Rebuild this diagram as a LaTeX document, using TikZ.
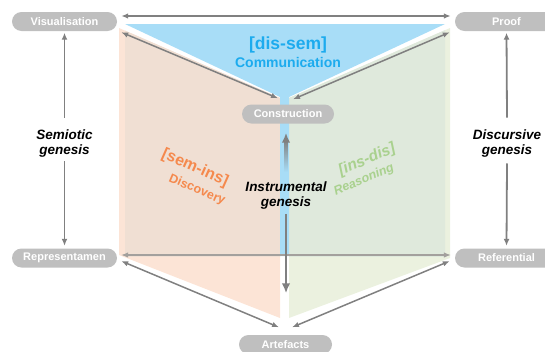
\documentclass[tikz,border=0pt]{standalone}
\usepackage{fontspec}
\setmainfont{Liberation Sans}
\usetikzlibrary{arrows.meta}

\definecolor{pillgrey}{HTML}{BFBFBF}
\definecolor{linkgrey}{HTML}{808080}
\definecolor{faintgrey}{HTML}{A3A09D}
\definecolor{semblue}{HTML}{A8DDF7}
\definecolor{textblue}{HTML}{1CABEE}
\definecolor{peachlow}{HTML}{FCE4D6}
\definecolor{peachup}{HTML}{F0DFD3}
\definecolor{greenlow}{HTML}{EBF1DF}
\definecolor{greenup}{HTML}{DFE9DC}
\definecolor{textorange}{HTML}{F5894D}
\definecolor{textgreen}{HTML}{A9D18E}

\tikzset{
  pole/.style={fill=pillgrey, rounded corners=9.5pt, minimum width=105pt, minimum height=19pt,
    inner sep=0pt, text=white, font=\fontsize{11}{12}\selectfont\bfseries},
  link/.style={draw=linkgrey, line width=1.5pt, {Latex[length=7pt,width=5.5pt]}-{Latex[length=7pt,width=5.5pt]}},
  flatlink/.style={draw=faintgrey, line width=1.1pt, {Latex[length=7pt,width=5.5pt]}-{Latex[length=7pt,width=5.5pt]}},
  halflink/.style={draw=linkgrey, line width=1.8pt, -{Latex[length=7pt,width=6pt]}},
  corelink/.style={draw=linkgrey, line width=2.6pt, -{Latex[length=10pt,width=8.5pt]}},
  genesis/.style={font=\fontsize{13.5}{15}\selectfont\bfseries\itshape, align=center, inner sep=2pt},
  tilted/.style={inner sep=0pt},
}

\begin{document}
\begin{tikzpicture}[x=1pt,y=-1pt]
  \useasboundingbox (0,0) rectangle (545,351);

  %%%%% panels %%%%%
  \fill[peachlow] (119,28) -- (280,98) -- (280,318) -- (119,255) -- cycle;
  \fill[greenlow] (289,98) -- (450,28) -- (450,258) -- (289,318) -- cycle;
  \begin{scope}
    \clip (125,24) rectangle (445,256);
    \fill[peachup] (119,28) -- (280,98) -- (280,318) -- (119,255) -- cycle;
    \fill[greenup] (289,98) -- (450,28) -- (450,258) -- (289,318) -- cycle;
  \end{scope}
  \fill[semblue] (125,24) -- (445,24) -- (289,97) -- (289,256) -- (280,256) -- (280,97) -- cycle;

  %%%%% labels in the panels %%%%%
  \node[text=textblue, font=\fontsize{17.5}{19}\selectfont\bfseries] (dissem) at (288,45) {[dis-sem]};
  \node[text=textblue, font=\fontsize{14}{15}\selectfont\bfseries] (comm) at (288,62) {Communication};
  \node[tilted, text=textorange, rotate=-24, font=\fontsize{16}{17}\selectfont\bfseries] (semins) at (195,168) {[sem-ins]};
  \node[tilted, text=textorange, rotate=-23, font=\fontsize{12.5}{14}\selectfont\bfseries] (disc) at (197,190) {Discovery};
  \node[tilted, text=textgreen, rotate=23, font=\fontsize{15.5}{17}\selectfont\bfseries\itshape] (insdis) at (367,160) {[ins-dis]};
  \node[tilted, text=textgreen, rotate=23, font=\fontsize{12.5}{14}\selectfont\bfseries\itshape] (reas) at (364,180) {Reasoning};

  %%%%% poles %%%%%
  \node[pole] (vis) at (64.5,21.5) {Visualisation};
  \node[pole, minimum width=103pt] (proof) at (506.5,21.5) {Proof};
  \node[pole] (rep) at (64.5,258) {Representamen};
  \node[pole, minimum width=103pt] (ref) at (506.5,258) {Referential};
  \node[pole, minimum width=92pt] (con) at (288,114) {Construction};
  \node[pole, minimum width=93pt] (art) at (285.5,344.5) {Artefacts};

  \node[genesis] (semio) at (64.5,143.5) {Semiotic\\genesis};
  \node[genesis] (discu) at (507,143.5) {Discursive\\genesis};
  \node[genesis] (instr) at (286,196) {Instrumental\\genesis};

  %%%%% links %%%%%
  \draw[link] ([shift={(4,-5.5)}]vis.east) -- ([shift={(-4,-5.5)}]proof.west);
  \draw[flatlink] ([shift={(4,-3)}]rep.east) -- ([shift={(-4,-3)}]ref.west);
  \draw[link] ([shift={(4,1)}]vis.south east) -- ([shift={(-10,-6)}]con.north);
  \draw[link] ([shift={(-5,1)}]proof.south west) -- ([shift={(5,-5)}]con.north);
  \draw[link] ([shift={(4,3)}]rep.east) -- ([shift={(-6.5,-7.5)}]art.north);
  \draw[link] ([shift={(-5,3)}]ref.west) -- ([shift={(6.5,-7.5)}]art.north);

  \draw[halflink] ([shift={(0,-10)}]semio.north) -- ([shift={(0,1.5)}]vis.south);
  \draw[halflink] ([shift={(0,2)}]semio.south) -- ([shift={(0,-2.5)}]rep.north);
  \draw[halflink] ([shift={(0,-10)}]discu.north) -- ([shift={(0,1.5)}]proof.south);
  \draw[halflink] ([shift={(0,4)}]discu.south) -- ([shift={(0,-2.5)}]ref.north);

  \shade[top color=linkgrey, middle color=linkgrey!75!semblue, bottom color=semblue]
    (284.7,140) rectangle (287.3,172);
  \draw[corelink] ([shift={(-2,18)}]con.south) -- ([shift={(-2,9)}]con.south);
  \draw[corelink] ([shift={(0,2)}]instr.south) -- ([shift={(0.5,-41.5)}]art.north);
\end{tikzpicture}
\end{document}
